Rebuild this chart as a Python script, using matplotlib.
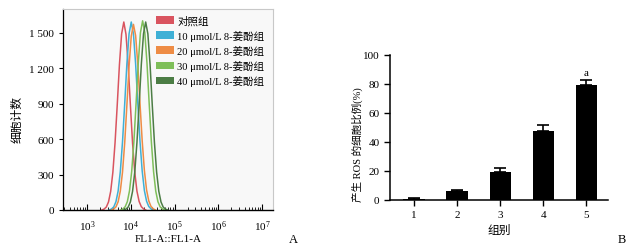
import numpy as np
import matplotlib
matplotlib.use('Agg')
import matplotlib.pyplot as plt
from matplotlib.patches import Patch
from matplotlib.ticker import LogLocator, NullFormatter

plt.rcParams['font.family'] = ['Liberation Serif', 'Noto Sans CJK SC']
plt.rcParams['mathtext.fontset'] = 'custom'
plt.rcParams['mathtext.rm'] = 'Liberation Serif'
plt.rcParams['axes.unicode_minus'] = False

# panel A: flow histograms, x as log10(FL1-A), y as cell count
labels_a = ['对照组', '10 μmol/L 8-姜酚组', '20 μmol/L 8-姜酚组',
            '30 μmol/L 8-姜酚组', '40 μmol/L 8-姜酚组']
colors_a = ['#d9545f', '#3fb0d6', '#ee8c45', '#7fbf5a', '#4c7d45']

red_x = [3.34, 3.39, 3.44, 3.49, 3.54, 3.59, 3.64, 3.69, 3.74, 3.79, 3.84,
         3.89, 3.94, 3.99, 4.04, 4.09, 4.14, 4.19, 4.24, 4.29, 4.34]
red_y = [0, 8, 25, 68, 158, 320, 570, 890, 1230, 1490, 1590,
         1485, 1225, 890, 565, 320, 160, 72, 28, 10, 0]
blue_x = [3.51, 3.56, 3.61, 3.66, 3.71, 3.76, 3.81, 3.86, 3.91, 3.96, 4.01,
          4.06, 4.11, 4.16, 4.21, 4.26, 4.31, 4.36, 4.41, 4.46, 4.51]
blue_y = [0, 9, 26, 70, 160, 325, 575, 895, 1235, 1490, 1590,
          1490, 1235, 900, 580, 330, 165, 75, 30, 11, 0]
orange_x = [3.56, 3.61, 3.66, 3.71, 3.76, 3.81, 3.86, 3.91, 3.96, 4.01, 4.06,
            4.11, 4.16, 4.21, 4.26, 4.31, 4.36, 4.41, 4.46, 4.51, 4.56]
orange_y = [0, 9, 26, 70, 160, 320, 565, 885, 1215, 1470, 1570,
            1475, 1230, 900, 585, 335, 170, 78, 31, 11, 0]
lgreen_x = [3.77, 3.82, 3.87, 3.92, 3.97, 4.02, 4.07, 4.12, 4.17, 4.22, 4.27,
            4.32, 4.37, 4.42, 4.47, 4.52, 4.57, 4.62, 4.67, 4.72, 4.77]
lgreen_y = [0, 9, 27, 70, 162, 325, 575, 900, 1240, 1500, 1600,
            1500, 1240, 900, 575, 325, 160, 70, 27, 10, 0]
dgreen_x = [3.84, 3.89, 3.94, 3.99, 4.04, 4.09, 4.14, 4.19, 4.24, 4.29, 4.34,
            4.39, 4.44, 4.49, 4.54, 4.59, 4.64, 4.69, 4.74, 4.79, 4.84]
dgreen_y = [0, 8, 25, 68, 158, 320, 570, 890, 1230, 1490, 1590,
            1490, 1230, 890, 570, 320, 158, 68, 25, 8, 0]
curves = [(red_x, red_y), (blue_x, blue_y), (orange_x, orange_y),
          (lgreen_x, lgreen_y), (dgreen_x, dgreen_y)]

# panel B: ROS positive ratio
groups = ['1', '2', '3', '4', '5']
ros_pct = [1.0, 6.0, 19.0, 47.5, 79.5]
ros_err = [0.5, 1.2, 3.0, 4.0, 3.2]

W, H = 637, 253
fig = plt.figure(figsize=(W / 100, H / 100), dpi=100)

def box(l, t, r, b):
    return [l / W, 1 - b / H, (r - l) / W, (b - t) / H]

# ---- A
ax1 = fig.add_axes(box(63, 10, 273, 211))
ax1.set_facecolor('#f8f8f8')
for (xs, ys), c in zip(curves, colors_a):
    ax1.plot(10 ** np.array(xs), ys, color=c, lw=1.1)
ax1.set_xscale('log')
ax1.set_xlim(10 ** 2.45, 10 ** 7.25)
ax1.set_ylim(0, 1700)
ax1.set_yticks([0, 300, 600, 900, 1200, 1500])
ax1.set_yticklabels(['0', '300', '600', '900', '1 200', '1 500'])
ax1.xaxis.set_major_locator(LogLocator(base=10, numticks=10))
ax1.xaxis.set_minor_locator(LogLocator(base=10, subs=np.arange(2, 10), numticks=10))
ax1.xaxis.set_minor_formatter(NullFormatter())
ax1.tick_params(axis='x', direction='in', length=4, width=0.8, labelsize=8, pad=6)
ax1.tick_params(axis='x', which='minor', direction='in', length=2, width=0.6)
ax1.tick_params(axis='y', direction='out', length=3, width=0.8, labelsize=8)
for s in ['top', 'right']:
    ax1.spines[s].set_color('#c8c8c8')
    ax1.spines[s].set_linewidth(0.8)
ax1.spines['left'].set_linewidth(0.9)
ax1.spines['bottom'].set_linewidth(1.0)
ax1.set_ylabel('细胞计数', fontsize=8.5)
ax1.yaxis.set_label_coords(-0.186, 0.453)
ax1.set_xlabel('FL1-A::FL1-A', fontsize=8, labelpad=1)
handles = [Patch(facecolor=c, edgecolor='none') for c in colors_a]
ax1.legend(handles, labels_a, loc='upper right', frameon=False, fontsize=7.6,
           handlelength=1.7, handleheight=0.75, handletextpad=0.35,
           labelspacing=0.38, borderaxespad=0.2, bbox_to_anchor=(0.99, 1.0))
fig.text(293 / W, 1 - 240 / H, 'A', fontsize=9, ha='center', va='center')

# ---- B
ax2 = fig.add_axes(box(390, 56, 608, 201))
pos = np.arange(1, len(groups) + 1)
ax2.bar(pos, ros_pct, width=0.5, color='black')
ax2.errorbar(pos, ros_pct, yerr=[[0] * len(groups), ros_err], fmt='none',
             ecolor='black', elinewidth=1.2, capsize=4, capthick=1.2)
ax2.text(pos[-1], ros_pct[-1] + ros_err[-1] + 2.0, 'a', ha='center', va='bottom', fontsize=8)
ax2.set_xlim(0.44, 5.5)
ax2.set_ylim(0, 100)
ax2.set_yticks(range(0, 101, 20))
ax2.set_xticks(pos)
ax2.set_xticklabels(groups)
for s in ['top', 'right']:
    ax2.spines[s].set_visible(False)
ax2.spines['left'].set_linewidth(1.1)
ax2.spines['bottom'].set_linewidth(1.1)
ax2.tick_params(direction='out', length=4, width=1.0, labelsize=8)
ax2.set_xlabel('组别', fontsize=8.5, labelpad=3)
ax2.set_ylabel('产生 ROS 的细胞比例(%)', fontsize=7.6)
ax2.yaxis.set_label_coords(-0.124, 0.386)
fig.text(622 / W, 1 - 240 / H, 'B', fontsize=9, ha='center', va='center')

fig.savefig('out.png', dpi=100)
